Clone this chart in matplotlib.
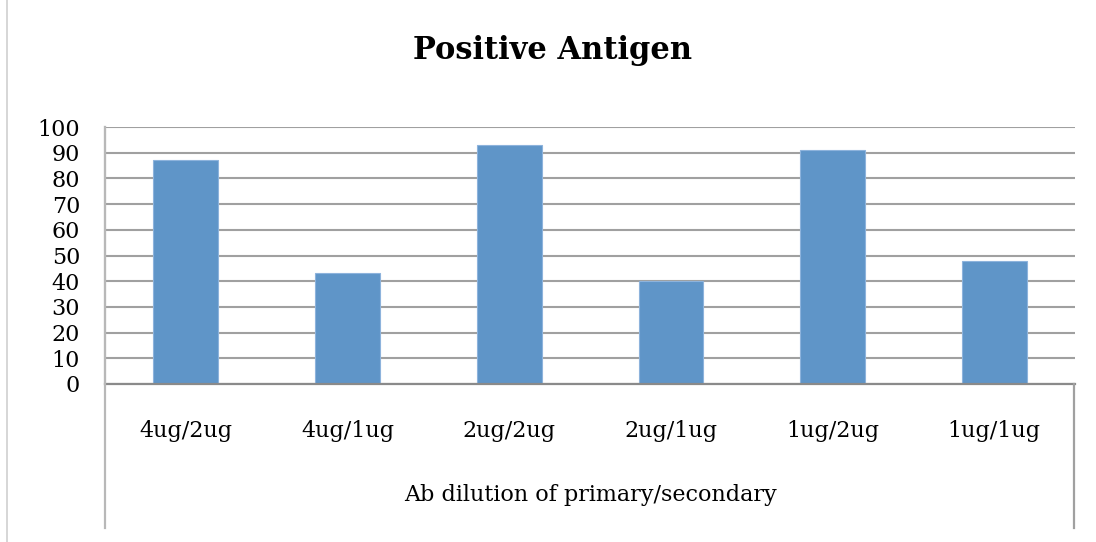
import matplotlib
matplotlib.use("Agg")
import matplotlib.pyplot as plt
from matplotlib.lines import Line2D

categories = ["4ug/2ug", "4ug/1ug", "2ug/2ug", "2ug/1ug", "1ug/2ug", "1ug/1ug"]
values = [87, 43, 93, 40, 91, 48]
yticks = [0, 10, 20, 30, 40, 50, 60, 70, 80, 90, 100]

W, H = 1096, 542
fig = plt.figure(figsize=(W / 100, H / 100), dpi=100)
ax = fig.add_axes([105 / W, 1 - 384 / H, 970 / W, (384 - 127) / H])

serif = ["DejaVu Serif"]
bar_color = "#5f95c8"

x = range(len(categories))
ax.bar(x, values, width=0.4, color=bar_color, edgecolor="#8db3dc", linewidth=0.8, zorder=3)
ax.set_xlim(-0.5, len(categories) - 0.5)
ax.set_ylim(0, 100)
ax.set_yticks(yticks)
ax.set_yticklabels([str(t) for t in yticks], fontfamily=serif, fontsize=16)
ax.set_xticks(list(x))
ax.set_xticklabels(categories, fontfamily=serif, fontsize=16)
ax.tick_params(axis="y", length=0, pad=18)
ax.tick_params(axis="x", length=0, pad=26)
ax.grid(axis="y", color="#a0a0a0", linewidth=1.5, zorder=0)
for s in ["top", "right", "bottom"]:
    ax.spines[s].set_visible(False)
ax.spines["left"].set_color("#b8b8b8")
ax.spines["left"].set_linewidth(1.5)

ax.set_xlabel("Ab dilution of primary/secondary", fontfamily=serif, fontsize=16, labelpad=30)

def fl(x0, y0, x1, y1, c="#a0a0a0", lw=1.6):
    fig.add_artist(Line2D([x0 / W, x1 / W], [1 - y0 / H, 1 - y1 / H], color=c, linewidth=lw))

fl(105, 384, 1075, 384, c="#8a8a8a")
fl(105, 127, 105, 528, c="#b8b8b8")
fl(1074, 384, 1074, 528, c="#a0a0a0")
fl(7, 0, 7, 542, c="#d0d0d0", lw=1.2)

fig.text(553 / W, 1 - 51 / H, "Positive Antigen", ha="center", va="center",
         fontfamily=serif, fontweight="bold", fontsize=22)

fig.savefig("out.png", dpi=100, facecolor="white")
